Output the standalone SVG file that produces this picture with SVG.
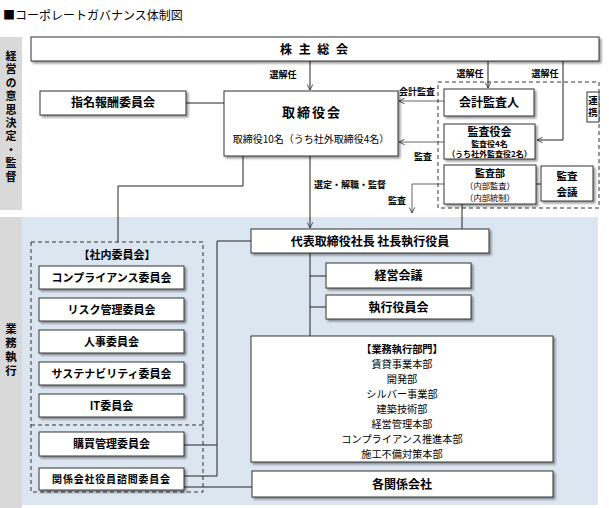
<svg xmlns="http://www.w3.org/2000/svg" width="609" height="508" viewBox="0 0 609 508">
<defs>
<filter id="sh" x="-10%" y="-20%" width="130%" height="160%">
<feDropShadow dx="2" dy="2" stdDeviation="1" flood-color="#000" flood-opacity="0.4"/>
</filter>
<marker id="ah" viewBox="0 0 10 10" refX="9" refY="5" markerWidth="7" markerHeight="7" orient="auto" markerUnits="userSpaceOnUse">
<path d="M1,1 L9,5 L1,9" fill="none" stroke="#333" stroke-width="1.2"/>
</marker>
<style>
text{font-family:"Noto Sans CJK JP","Liberation Sans",sans-serif;fill:#000;text-anchor:middle}
.box{fill:#fff;stroke:#333;stroke-width:1;filter:url(#sh)}
.dash{fill:none;stroke:#333;stroke-width:1;stroke-dasharray:4,3}
.b{font-weight:bold}
.t12{font-size:12px}
.t11{font-size:11px}
.t10{font-size:10px}
.li{font-size:10.2px}
.lbl{font-size:9px;font-weight:bold}
.vt{writing-mode:vertical-rl;font-weight:bold}
.ln{fill:none;stroke:#222;stroke-width:1}
.lg{fill:none;stroke:#666;stroke-width:1}
.arr{marker-end:url(#ah)}
</style>
</defs>
<rect x="0" y="0" width="609" height="508" fill="#fff"/>
<rect x="0" y="37" width="22" height="173" fill="#d9d9d9"/>
<rect x="0" y="217" width="22" height="291" fill="#d9d9d9"/>
<rect x="22" y="217" width="576" height="288" fill="#dce6f1"/>
<text x="3" y="20" style="text-anchor:start;font-size:12px">■コーポレートガバナンス体制図</text>
<text class="vt" x="11" y="117.4" style="font-size:11px;letter-spacing:2.4px">経営の意思決定・監督</text>
<text class="vt" x="11" y="351" style="font-size:11.5px;letter-spacing:2.7px">業務執行</text>

<g id="connectors">
<path class="ln arr" d="M310,61 V90"/>
<path class="ln arr" d="M488,61 V88"/>
<path class="ln arr" d="M563,61 V140 H537"/>
<path class="lg arr" d="M444,101 H399"/>
<path class="lg arr" d="M444,142 H399"/>
<path class="lg arr" d="M444,184 H412 V213"/>
<path class="ln" d="M536,184 H541"/>
<path class="ln" d="M462,204 V229"/>
<path class="ln" d="M186,103 H224"/>
<path class="ln" d="M243,156 V186 H118 V242"/>
<path class="ln arr" d="M310,156 V228"/>
<path class="ln" d="M310,253 V336 M310,276 H326 M310,307 H326"/>
<path class="ln" d="M251,241 H217 V476 M184,445 H217 M184,476 H217"/>
<path class="ln" d="M184,487 H252"/>
<text class="lbl" x="283" y="78">選解任</text>
<text class="lbl" x="470" y="77">選解任</text>
<text class="lbl" x="545" y="77">選解任</text>
<text class="lbl" x="417" y="95">会計監査</text>
<text class="lbl" x="423" y="160">監査</text>
<text class="lbl" x="397" y="204">監査</text>
<text class="lbl" x="350" y="188">選定・解職・監督</text>
</g>

<g id="kabunushi"><rect class="box" x="31" y="37" width="568" height="24"/><text class="b t12" x="315" y="54" style="letter-spacing:2px">株 主 総 会</text></g>
<g id="shimei"><rect class="box" x="40" y="91" width="146" height="24"/><text class="b t12" x="113" y="107">指名報酬委員会</text></g>
<g id="torishimariyakukai"><rect class="box" x="224" y="91" width="174" height="65"/><text class="b" x="312" y="117" style="font-size:13px;letter-spacing:2px">取締役会</text><text class="t10" x="311" y="143">取締役10名（うち社外取締役4名）</text></g>
<g id="renkei-frame"><rect class="dash" x="438" y="82" width="161" height="126"/></g>
<g id="kaikei"><rect class="box" x="444" y="89" width="90" height="27"/><text class="b t12" x="489" y="107">会計監査人</text></g>
<g id="kansayakukai"><rect class="box" x="444" y="124" width="91" height="35"/><text class="b t11" x="489.5" y="136">監査役会</text><text class="b" x="489.5" y="147" style="font-size:8px">監査役4名</text><text class="b" x="489.5" y="157" style="font-size:8px">（うち社外監査役2名）</text></g>
<g id="kansabu"><rect class="box" x="444" y="165" width="92" height="39"/><text class="b t10" x="490" y="176.8">監査部</text><text x="490" y="189.3" style="font-size:8.3px">（内部監査）</text><text x="490" y="201.3" style="font-size:8.3px">（内部統制）</text></g>
<g id="kansakaigi"><rect class="box" x="541" y="166" width="52" height="35"/><text class="b" x="567" y="180" style="font-size:10.5px">監査</text><text class="b" x="567" y="196" style="font-size:10.5px">会議</text></g>
<g id="renkei"><rect x="587" y="92" width="12" height="30" fill="#fff" stroke="#333"/><text class="vt" x="593" y="108" style="font-size:9.5px;letter-spacing:2.5px">連携</text></g>

<g id="shanai-frame"><rect class="dash" x="31" y="242" width="172" height="250"/><path class="dash" d="M31,425 H203"/><text class="b t11" x="117" y="259">【社内委員会】</text></g>
<g id="compliance"><rect class="box" x="39" y="266" width="145" height="23"/><text class="b t11" x="111.5" y="281.5">コンプライアンス委員会</text></g>
<g id="risk"><rect class="box" x="39" y="298" width="145" height="23"/><text class="b t11" x="111.5" y="313.5">リスク管理委員会</text></g>
<g id="jinji"><rect class="box" x="39" y="330" width="145" height="23"/><text class="b t11" x="111.5" y="345.5">人事委員会</text></g>
<g id="sustain"><rect class="box" x="39" y="362" width="145" height="23"/><text class="b t11" x="111.5" y="377.5">サステナビリティ委員会</text></g>
<g id="it"><rect class="box" x="39" y="394" width="145" height="23"/><text class="b t11" x="111.5" y="409.5">IT委員会</text></g>
<g id="kobai"><rect class="box" x="39" y="432" width="145" height="24"/><text class="b t11" x="111.5" y="448">購買管理委員会</text></g>
<g id="kankei-shimon"><rect class="box" x="39" y="468" width="145" height="22"/><text class="b" x="111.5" y="483" style="font-size:10px;letter-spacing:0.8px">関係会社役員諮問委員会</text></g>

<g id="daihyo"><rect class="box" x="251" y="229" width="238" height="24"/><text class="b t12" x="370" y="245.5">代表取締役社長 社長執行役員</text></g>
<g id="keieikaigi"><rect class="box" x="326" y="263" width="145" height="25"/><text class="b t12" x="398.5" y="280">経営会議</text></g>
<g id="shikkoyakuinkai"><rect class="box" x="326" y="295" width="145" height="24"/><text class="b t12" x="398.5" y="311.5">執行役員会</text></g>
<g id="gyomu"><rect class="box" x="251" y="336" width="302" height="126"/>
<text class="b li" x="402" y="352.5">【業務執行部門】</text>
<text class="li" x="402" y="367.5">賃貸事業本部</text>
<text class="li" x="402" y="382.5">開発部</text>
<text class="li" x="402" y="397.5">シルバー事業部</text>
<text class="li" x="402" y="412.5">建築技術部</text>
<text class="li" x="402" y="427.5">経営管理本部</text>
<text class="li" x="402" y="442.5">コンプライアンス推進本部</text>
<text class="li" x="402" y="457.5">施工不備対策本部</text>
</g>
<g id="kakukankei"><rect class="box" x="252" y="471" width="301" height="26"/><text class="b t12" x="402" y="488.5">各関係会社</text></g>
</svg>
